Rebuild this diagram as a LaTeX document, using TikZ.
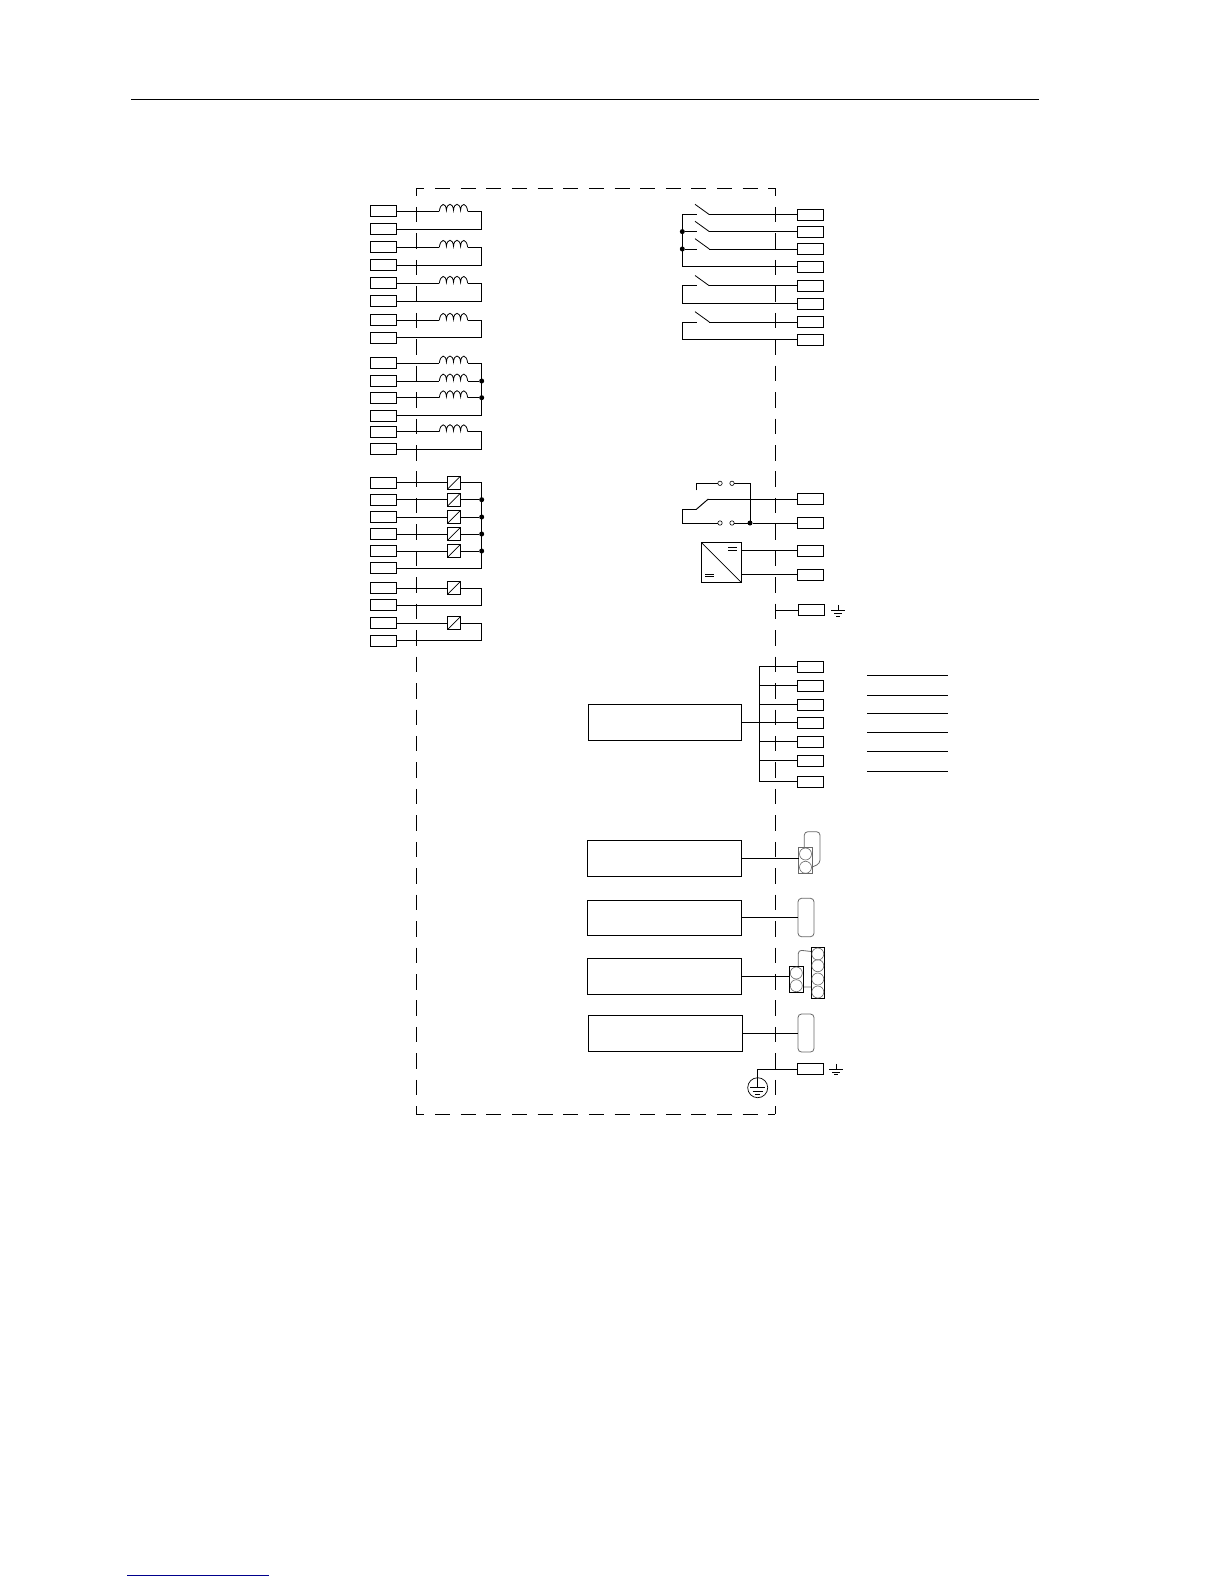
\documentclass[tikz,border=0pt]{standalone}
\usepackage{xcolor}
\usetikzlibrary{positioning}
\definecolor{linkblue}{RGB}{0,0,140}
\definecolor{plugedge}{RGB}{105,105,105}
\tikzset{
  wire/.style={line width=0.95pt,black},
  thin wire/.style={line width=0.8pt,black},
  frameh/.style={line width=0.95pt,dash pattern=on 15pt off 10.64pt,dash phase=6.9pt},
  framev/.style={line width=0.95pt,dash pattern=on 15.5pt off 10.95pt,dash phase=7.8pt},
  term/.style={draw,line width=0.95pt,minimum width=26.4pt,minimum height=11pt,inner sep=0pt,outer sep=0pt},
  block/.style={draw,line width=0.95pt,minimum height=35.6pt,inner sep=0pt,outer sep=0pt},
  dot/.style={circle,fill=black,minimum size=5pt,inner sep=0pt,outer sep=0pt},
  contact/.style={circle,draw,line width=0.6pt,fill=white,minimum size=4.4pt,inner sep=0pt,outer sep=0pt},
  isobox/.style={draw,line width=0.95pt,minimum size=13pt,inner sep=0pt,outer sep=0pt,
    path picture={\draw[line width=0.7pt] (path picture bounding box.south west) -- (path picture bounding box.north east);}},
  pinhole/.style={circle,draw=plugedge,line width=0.6pt,minimum size=12pt,inner sep=0pt,outer sep=0pt},
  plug/.style={line width=0.8pt,plugedge,rounded corners=3.5pt},
  coilsym/.pic={
    \coordinate (-a) at (-14.2,0);
    \coordinate (-b) at (14.2,0);
    \draw[thin wire] (-14.2,0) .. controls (-13,-9) and (-7.5,-9) .. (-7.1,-1)
      .. controls (-6.5,-9) and (-0.5,-9) .. (0,-1)
      .. controls (0.5,-9) and (6.5,-9) .. (7.1,-1)
      .. controls (7.5,-9) and (13,-9) .. (14.2,0);
  },
  switchsym/.pic={
    \coordinate (-a) at (-12.6,0);
    \coordinate (-b) at (0,0);
    \draw[thin wire] (-14.3,-10.3) -- (0,0);
  },
  earthsym/.pic={
    \draw[thin wire] (0,-5.5) -- (0,0);
    \draw[thin wire] (-7,0) -- (7,0) (-3.7,2.8) -- (3.7,2.8) (-2,5.5) -- (2,5.5);
  }
}

\begin{document}
\begin{tikzpicture}[x=1pt,y=-1pt]
        \useasboundingbox (0,0) rectangle (1224,1584);
        % page rules
        \draw[wire] (131,99.5) -- (1039,99.5);
        \draw[line width=1pt,linkblue] (127,1575) -- (269,1575);
        % housing
        \draw[frameh] (416.3,188.3) -- (775.3,188.3);
        \draw[frameh] (416.3,1114.3) -- (775.3,1114.3);
        \draw[framev] (416.3,188.3) -- (416.3,1114.3);
        \draw[framev] (775.3,188.3) -- (775.3,1114.3);

        % left terminals
        \foreach \n/\y in {1/211.3,2/229,3/247.3,4/265,5/283.3,6/301,7/320.3,8/337.8,
                           9/363,10/381,11/397.7,12/415.7,13/431.7,14/449,
                           15/482.7,16/499.7,17/517,18/534,19/551,20/568.3,
                           21/588,22/605,23/623.3,24/640.7}
            \node[term] (l\n) at (383.5,\y) {};

        % coils
        \foreach \n/\t/\y in {1/1/211.3,2/3/247.3,3/5/283.3,4/7/320.3,5/9/363,6/10/381,7/11/397.7,8/13/431.7} {
            \pic (c\n) at (453.5,\y) {coilsym};
            \draw[wire] (l\t) -- (c\n-a);
        }
        \foreach \n/\r in {1/2,2/4,3/6,4/8,8/14}
            \draw[wire] (c\n-b) -- ++(14,0) |- (l\r);
        \node[dot] (d1) at (481.7,381) {};
        \node[dot] (d2) at (481.7,397.7) {};
        \draw[wire] (c5-b) -- ++(14,0) |- (l12);
        \draw[wire] (c6-b) -- (d1);
        \draw[wire] (c7-b) -- (d2);

        % isolated inputs
        \foreach \n/\t/\y in {1/15/482.7,2/16/499.7,3/17/517,4/18/534,5/19/551,6/21/588,7/23/623.3} {
            \node[isobox] (i\n) at (453.8,\y) {};
            \draw[wire] (l\t) -- (i\n);
        }
        \foreach \n/\y in {3/499.7,4/517,5/534,6/551}
            \node[dot] (d\n) at (481.7,\y) {};
        \draw[wire] (i1) -- ++(27.9,0) |- (l20);
        \draw[wire] (i2) -- (d3);
        \draw[wire] (i3) -- (d4);
        \draw[wire] (i4) -- (d5);
        \draw[wire] (i5) -- (d6);
        \draw[wire] (i6) -- ++(27.9,0) |- (l22);
        \draw[wire] (i7) -- ++(27.9,0) |- (l24);

        % right terminals
        \foreach \n/\y in {1/214.6,2/231.6,3/249,4/266.7,5/285.8,6/303.5,7/322,8/339.8,
                           9/499,10/523,11/550.6,12/574.6,
                           14/666.5,15/685.5,16/704.5,17/722.6,18/741.6,19/760.5,20/781.6,
                           21/1069.3}
            \node[term] (r\n) at (810.5,\y) {};
        \node[term] (r13) at (811.5,610.4) {};

        % relay outputs
        \foreach \n/\r/\y in {1/1/214.6,2/2/231.6,3/3/249,4/5/285.8,5/7/322} {
            \pic (sw\n) at (709.3,\y) {switchsym};
            \draw[wire] (sw\n-b) -- (r\r);
        }
        \node[dot] (d7) at (682.3,231.6) {};
        \node[dot] (d8) at (682.3,249) {};
        \draw[wire] (sw1-a) -- ++(-14.3,0) |- (r4);
        \draw[wire] (d7) -- (sw2-a);
        \draw[wire] (d8) -- (sw3-a);
        \draw[wire] (sw4-a) -- ++(-14.3,0) |- (r6);
        \draw[wire] (sw5-a) -- ++(-14.3,0) |- (r8);

        % watchdog contact
        \node[contact] (k1) at (720,483.3) {};
        \node[contact] (k2) at (732,483.3) {};
        \node[contact] (k3) at (720,523) {};
        \node[contact] (k4) at (732,523) {};
        \node[dot] (d9) at (750,523) {};
        \coordinate (wd_a) at (696.7,490.3);
        \coordinate (wd_b) at (708.3,499);
        \coordinate (wd_c) at (696,509.6);
        \draw[wire] (wd_a) |- (k1);
        \draw[wire] (k2) -| (d9);
        \draw[wire] (wd_c) -- (wd_b);
        \draw[wire] (wd_b) -- (r9);
        \draw[wire] (wd_c) -- (682.3,509.6) |- (k3);
        \draw[wire] (k4) -- (d9);
        \draw[wire] (d9) -- (r10);

        % power supply
        \node[draw,line width=0.95pt,minimum size=40.4pt,inner sep=0pt,outer sep=0pt,
              path picture={\draw[line width=0.7pt] (path picture bounding box.north west) -- (path picture bounding box.south east);}]
              (psu) at (721.5,562.6) {};
        \draw[thin wire] (728.3,547.8) -- (737.3,547.8) (728.3,550.2) -- (737.3,550.2);
        \draw[thin wire] (705,574.5) -- (714,574.5) (705,576.8) -- (714,576.8);
        \draw[wire] (741.7,550.6) -- (r11);
        \draw[wire] (741.7,574.6) -- (r12);

        % shield terminal
        \coordinate (sh_a) at (775.5,610.4);
        \draw[wire] (sh_a) -- (r13);
        \pic (e1) at (838,610.4) {earthsym};

        % fieldbus block
        \node[block,minimum width=153.4pt] (b1) at (665,722.6) {};
        \coordinate (bus_t) at (759.3,666.5);
        \coordinate (bus_b) at (759.3,781.6);
        \draw[wire] (b1) -- (r17);
        \draw[wire] (r14) -- (bus_t) -- (bus_b) -- (r20);
        \foreach \r/\y in {15/685.5,16/704.5,18/741.6,19/760.5}
            \draw[wire] (759.3,\y) -- (r\r);
        \foreach \y in {675.3,695.3,713.3,732.3,751.3,771.3}
            \draw[wire] (867,\y) -- (948,\y);

        % interface blocks
        \node[block,minimum width=153.8pt] (b2) at (664.4,858.3) {};
        \node[block,minimum width=153.8pt] (b3) at (664.4,917.9) {};
        \node[block,minimum width=153.8pt] (b4) at (664.4,976.3) {};
        \node[block,minimum width=154pt] (b5) at (665.3,1033.3) {};

        % connector 1
        \draw[plug] (804.3,848) -- (804.3,831.7) -- (820,831.7) -- (820,863.5) -- (812.3,867);
        \node[draw=plugedge,line width=0.8pt,minimum width=13.6pt,minimum height=26pt,inner sep=0pt,outer sep=0pt] (x1) at (805.5,860.3) {};
        \node[pinhole] (x1a) at (805.5,854) {};
        \node[pinhole] (x1b) at (805.5,867.3) {};
        \draw[wire] (b2) -- (x1.west |- b2);

        % connector 2
        \node[draw=plugedge,line width=0.8pt,rounded corners=3.5pt,minimum width=16pt,minimum height=38.4pt,inner sep=0pt,outer sep=0pt] (x2) at (806,917.5) {};
        \draw[wire] (b3) -- (x2.west |- b3);

        % connector 3
        \draw[plug] (798.3,966) -- (798.3,950) -- (811.3,951.5) (803.3,987) -- (811.3,987);
        \node[draw,line width=0.95pt,minimum width=14pt,minimum height=26.3pt,inner sep=0pt,outer sep=0pt] (x3) at (796.3,979.2) {};
        \node[pinhole] (x3a) at (796.3,973) {};
        \node[pinhole] (x3b) at (796.3,985.7) {};
        \node[draw,line width=0.95pt,minimum width=13pt,minimum height=51pt,inner sep=0pt,outer sep=0pt] (x4) at (817.8,972.8) {};
        \foreach \n/\y in {a/954,b/965.7,c/979,d/992}
            \node[pinhole] (x4\n) at (817.8,\y) {};
        \draw[wire] (b4) -- (x3.west |- b4);

        % connector 4
        \node[draw=plugedge,line width=0.8pt,rounded corners=3.5pt,minimum width=16pt,minimum height=38pt,inner sep=0pt,outer sep=0pt] (x5) at (806,1033) {};
        \draw[wire] (b5) -- (x5.west |- b5);

        % protective earth
        \node[circle,draw,line width=0.7pt,minimum size=20pt,inner sep=0pt,outer sep=0pt] (pe) at (757.7,1087.7) {};
        \draw[wire] (pe) -- (757.7,1069.3) -- (r21);
        \draw[thin wire] (pe.north) -- (pe.center);
        \draw[thin wire] (750,1087.7) -- (765,1087.7) (752.7,1091) -- (762.7,1091) (755,1094) -- (760.4,1094);
        \pic (e2) at (836,1069.3) {earthsym};
\end{tikzpicture}
\end{document}
